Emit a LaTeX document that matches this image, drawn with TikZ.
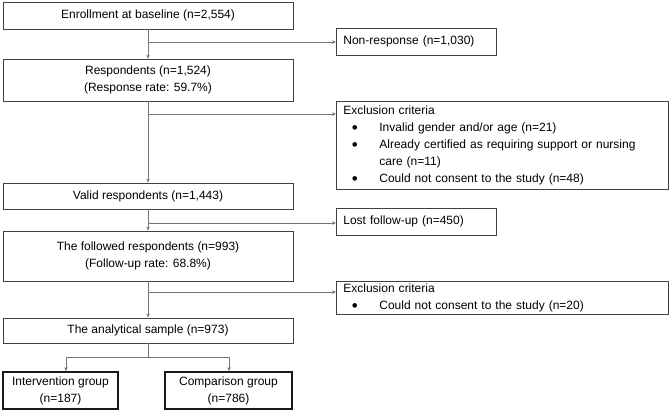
\documentclass[tikz,border=0pt]{standalone}
\usepackage{fontspec}
\setmainfont{Liberation Sans}
\usetikzlibrary{arrows.meta,positioning,calc}

\tikzset{
 flowtxt/.style={font=\fontsize{12}{17}\selectfont},
 mainbox/.style={flowtxt,draw=black!75,line width=0.8pt,minimum width=290pt,
  align=center,inner sep=0pt},
 sidebox/.style={flowtxt,draw=black!75,line width=0.8pt,anchor=west,align=left,
  inner xsep=7pt,inner ysep=0pt},
 grpbox/.style={flowtxt,draw=black!90,line width=1.4pt,align=center,inner sep=0pt},
 link/.style={draw=black!55,line width=0.7pt},
 arr/.style={link,-{Stealth[length=4pt,width=3.5pt]}}
}
\newcommand{\critem}{\\\makebox[36pt][l]{\hspace{8.5pt}\raisebox{-2pt}{\fontsize{17}{17}\selectfont\textbullet}}}

\begin{document}
\begin{tikzpicture}[x=1pt,y=-1pt]
\useasboundingbox (0,0) rectangle (671,413);
% main column
\node[mainbox,minimum height=27pt] (enrol) at (148,15.5) {Enrollment at baseline (n=2,554)};
\node[mainbox,minimum height=42pt] (resp) at (148,80) {Respondents (n=1,524)\\(Response rate: 59.7\%)};
\node[mainbox,minimum height=26pt] (valid) at (148,196) {Valid respondents (n=1,443)};
\node[mainbox,minimum height=50pt] (follow) at (148,256) {The followed respondents (n=993)\\(Follow-up rate: 68.8\%)};
\node[mainbox,minimum height=25pt] (anal) at (148,330.5) {The analytical sample (n=973)};
% exclusions
\node[sidebox,text width=146pt,minimum height=27pt] (nonresp) at (336,41.5) {Non-response (n=1,030)};
\node[sidebox,text width=318pt,minimum height=88pt] (excl1) at (336,145) {Exclusion criteria
 \critem Invalid gender and/or age (n=21)
 \critem Already certified as requiring support or nursing
 \\\hspace*{36pt}care (n=11)
 \critem Could not consent to the study (n=48)};
\node[sidebox,text width=146pt,minimum height=27pt] (lost) at (336,221.5) {Lost follow-up (n=450)};
\node[sidebox,text width=318pt,minimum height=33pt] (excl2) at (336,297.5) {Exclusion criteria
 \critem Could not consent to the study (n=20)};
% groups
\node[grpbox,minimum width=115pt,minimum height=37pt] (inter) at (60.5,390.5) {Intervention group\\(n=187)};
\node[grpbox,minimum width=127pt,minimum height=37pt] (comp) at (228.5,390.5) {Comparison group\\(n=786)};

\draw[arr] (enrol) -- (resp);
\draw[arr] (resp) -- (valid);
\draw[arr] (valid) -- (follow);
\draw[arr] (follow) -- (anal);
\foreach \j/\y/\tgt in {j1/42/nonresp,j2/114/excl1,j3/223/lost,j4/292/excl2}
 {\coordinate (\j) at (148,\y);
  \draw[arr] (\j) -- (\j -| \tgt.west);}
\coordinate (split) at (148,357);
\coordinate (sl) at (66,357);
\coordinate (sr) at (229,357);
\draw[link] (anal) -- (split);
\draw[arr] (split) -- (sl) -- (sl |- inter.north);
\draw[arr] (split) -- (sr) -- (sr |- comp.north);
\end{tikzpicture}
\end{document}
